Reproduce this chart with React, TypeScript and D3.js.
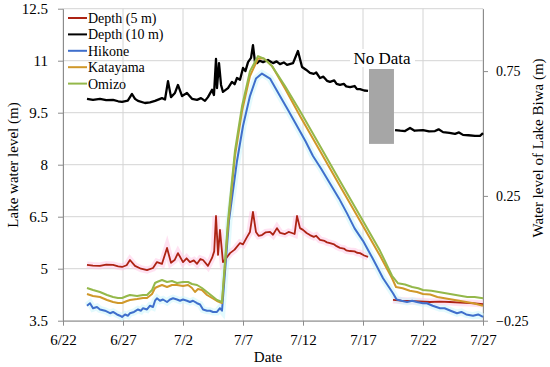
import React, { useEffect, useRef } from 'react';
import * as d3 from 'd3';

// days counted from 6/22, values in m
const dateLabels = ['6/22', '6/27', '7/2', '7/7', '7/12', '7/17', '7/22', '7/27'];
const leftTicks = [3.5, 5, 6.5, 8, 9.5, 11, 12.5];
const rightTicks = [-0.25, 0.25, 0.75];
const rightTickLabels = ['\u22120.25', '0.25', '0.75'];

// left axis (lake water level)
const depth5: [number, number | null][] = [
  [2.0, 5.11], [2.5, 5.09], [3.08, 5.08], [3.6, 5.12], [4.17, 5.11], [4.6, 5.07], [4.92, 5.05], [5.3, 5.1],
  [5.58, 5.25], [6.0, 5.08], [6.5, 5.0], [7.0, 4.96], [7.5, 5.02], [7.83, 5.19], [8.25, 5.14], [8.67, 5.6],
  [9.0, 5.17], [9.3, 5.25], [9.58, 5.45], [10.0, 5.19], [10.3, 5.3], [10.58, 5.19], [10.9, 5.24], [11.17, 5.14],
  [11.45, 5.28], [11.67, 5.25], [12.08, 5.08], [12.42, 5.31], [12.6, 5.5], [12.75, 6.52], [12.92, 5.4],
  [13.08, 6.12], [13.33, 5.19], [13.6, 5.3], [13.92, 5.45], [14.3, 5.55], [14.75, 5.74], [15.0, 5.7],
  [15.33, 5.91], [15.58, 6.06], [15.83, 6.64], [16.08, 6.06], [16.3, 5.95], [16.58, 5.97], [16.9, 6.05],
  [17.25, 6.06], [17.5, 5.98], [17.83, 6.17], [18.1, 6.03], [18.5, 6.0], [18.8, 6.06], [19.08, 6.03],
  [19.3, 6.0], [19.5, 6.52], [19.75, 6.17], [20.0, 6.12], [20.3, 6.03], [20.58, 5.97], [20.9, 5.92],
  [21.1, 5.95], [21.42, 5.83], [21.8, 5.8], [22.0, 5.76], [22.25, 5.74], [22.6, 5.7], [22.8, 5.65],
  [23.08, 5.6], [23.4, 5.58], [23.6, 5.53], [23.92, 5.51], [24.3, 5.5], [24.5, 5.46], [24.75, 5.45],
  [25.1, 5.38], [25.42, 5.34], [26.5, null],
  [27.5, 4.1], [28.2, 4.08], [28.92, 4.07], [29.7, 4.06], [30.58, 4.04], [31.4, 4.05], [32.25, 4.04],
  [33.1, 4.02], [33.92, 4.01], [35.0, 3.98],
];

const depth10: [number, number | null][] = [
  [2.0, 9.9], [2.5, 9.87], [3.08, 9.9], [3.6, 9.86], [4.17, 9.87], [4.6, 9.83], [4.92, 9.81], [5.4, 9.85],
  [5.75, 10.04], [6.0, 9.9], [6.25, 9.84], [6.83, 9.78], [7.25, 9.8], [7.67, 9.84], [8.25, 9.92], [8.5, 9.88],
  [8.75, 10.41], [9.0, 9.95], [9.33, 10.07], [9.58, 10.3], [9.92, 9.98], [10.33, 10.07], [10.75, 9.9],
  [11.17, 9.87], [11.5, 9.92], [11.83, 9.84], [12.08, 9.95], [12.42, 10.16], [12.58, 10.01], [12.75, 11.05],
  [12.83, 10.21], [13.0, 10.93], [13.17, 10.3], [13.33, 10.1], [13.75, 10.21], [14.08, 10.39], [14.3, 10.32],
  [14.5, 10.5], [14.75, 10.45], [15.0, 10.79], [15.2, 10.7], [15.42, 10.96], [15.67, 11.08], [15.83, 11.45],
  [16.0, 10.96], [16.17, 10.93], [16.4, 11.0], [16.67, 10.96], [17.08, 11.02], [17.5, 10.93], [17.8, 10.98],
  [18.08, 10.9], [18.4, 10.95], [18.67, 10.88], [19.17, 10.93], [19.58, 11.28], [19.92, 10.82], [20.25, 10.74],
  [20.58, 10.65], [20.9, 10.62], [21.1, 10.66], [21.42, 10.5], [21.7, 10.54], [22.0, 10.42], [22.25, 10.39],
  [22.6, 10.43], [22.8, 10.33], [23.08, 10.3], [23.4, 10.33], [23.6, 10.26], [23.92, 10.24], [24.3, 10.27],
  [24.5, 10.18], [24.75, 10.18], [25.1, 10.14], [25.42, 10.13], [26.5, null],
  [27.67, 9.0], [28.1, 8.98], [28.5, 8.97], [28.92, 9.06], [29.3, 8.98], [30.0, 9.0], [30.5, 8.96],
  [31.0, 8.97], [31.3, 9.02], [31.67, 8.94], [32.2, 8.92], [32.67, 8.89], [33.0, 8.93], [33.33, 8.86],
  [33.8, 8.85], [34.33, 8.83], [34.75, 8.83], [35.0, 8.91],
];

// right axis (water level of Lake Biwa)
const hikone: [number, number][] = [
  [2.0, -0.19], [2.25, -0.18], [2.5, -0.2], [2.83, -0.195], [3.08, -0.205], [3.5, -0.21], [3.92, -0.22],
  [4.17, -0.215], [4.5, -0.225], [4.75, -0.23], [4.92, -0.235], [5.17, -0.225], [5.42, -0.23], [5.58, -0.22],
  [5.92, -0.215], [6.25, -0.205], [6.5, -0.21], [6.67, -0.2], [7.0, -0.205], [7.25, -0.19], [7.5, -0.195],
  [7.67, -0.17], [7.83, -0.16], [8.08, -0.17], [8.33, -0.165], [8.67, -0.175], [8.92, -0.165], [9.17, -0.16],
  [9.5, -0.165], [9.75, -0.17], [10.0, -0.165], [10.33, -0.17], [10.58, -0.175], [10.83, -0.17],
  [11.17, -0.18], [11.42, -0.185], [11.67, -0.205], [12.0, -0.21], [12.25, -0.21], [12.5, -0.215],
  [12.83, -0.215], [13.08, -0.2], [13.25, -0.21], [13.83, 0.15], [14.5, 0.39], [15.0, 0.53], [15.58, 0.65],
  [16.08, 0.72], [16.58, 0.74], [17.25, 0.72], [18.08, 0.65], [18.8, 0.59], [19.5, 0.53], [20.2, 0.47],
  [20.83, 0.41], [21.5, 0.36], [22.25, 0.3], [23.0, 0.24], [23.67, 0.18], [24.3, 0.12], [25.0, 0.07],
  [25.8, 0.0], [26.67, -0.08], [27.5, -0.14], [27.8, -0.165], [28.2, -0.17], [28.67, -0.175], [29.1, -0.17],
  [29.5, -0.175], [30.0, -0.18], [30.33, -0.18], [30.8, -0.19], [31.42, -0.2], [31.8, -0.2], [32.3, -0.21],
  [32.83, -0.22], [33.2, -0.215], [33.6, -0.225], [34.17, -0.23], [34.6, -0.225], [35.0, -0.235],
];

const katayama: [number, number][] = [
  [2.0, -0.143], [2.5, -0.151], [3.08, -0.155], [3.67, -0.167], [4.17, -0.175], [4.58, -0.179],
  [4.92, -0.179], [5.33, -0.171], [5.58, -0.167], [6.17, -0.163], [6.67, -0.159], [7.0, -0.159],
  [7.42, -0.143], [7.67, -0.119], [7.83, -0.115], [8.25, -0.107], [8.67, -0.115], [9.08, -0.107],
  [9.5, -0.107], [10.0, -0.111], [10.42, -0.107], [10.75, -0.119], [11.0, -0.135], [11.25, -0.123],
  [11.58, -0.127], [12.0, -0.147], [12.42, -0.159], [12.83, -0.171], [13.25, -0.179], [13.75, 0.13],
  [14.33, 0.41], [14.92, 0.59], [15.58, 0.73], [16.25, 0.8], [16.75, 0.8], [17.42, 0.77], [18.5, 0.68],
  [19.75, 0.57], [21.42, 0.43], [23.08, 0.29], [24.75, 0.15], [26.42, 0.01], [27.42, -0.08], [27.75, -0.115],
  [28.3, -0.12], [28.9, -0.13], [29.5, -0.135], [30.0, -0.143], [30.6, -0.145], [31.2, -0.155], [31.8, -0.16],
  [32.4, -0.165], [33.0, -0.17], [33.6, -0.175], [34.2, -0.18], [34.6, -0.185], [35.0, -0.19],
];

const omizo: [number, number][] = [
  [2.0, -0.119], [2.5, -0.127], [3.08, -0.135], [3.67, -0.147], [4.17, -0.155], [4.58, -0.159],
  [4.92, -0.159], [5.33, -0.151], [5.58, -0.147], [6.17, -0.151], [6.67, -0.147], [7.0, -0.147],
  [7.42, -0.127], [7.67, -0.099], [7.83, -0.095], [8.25, -0.087], [8.67, -0.095], [9.08, -0.091],
  [9.5, -0.099], [10.0, -0.095], [10.42, -0.095], [10.75, -0.103], [11.17, -0.107], [11.58, -0.119],
  [12.0, -0.135], [12.42, -0.151], [12.83, -0.167], [13.25, -0.175], [13.75, 0.15], [14.33, 0.43],
  [14.92, 0.61], [15.58, 0.75], [16.25, 0.81], [16.75, 0.8], [17.42, 0.77], [18.5, 0.69], [19.75, 0.59],
  [21.42, 0.45], [23.08, 0.31], [24.75, 0.17], [26.42, 0.03], [27.42, -0.07], [27.92, -0.1], [28.5, -0.105],
  [29.1, -0.115], [29.6, -0.12], [30.0, -0.127], [30.7, -0.13], [31.3, -0.135], [31.9, -0.14], [32.5, -0.145],
  [33.1, -0.15], [33.7, -0.155], [34.3, -0.155], [35.0, -0.16],
];

// no-data box: days and left-axis values
const noData = { x0: 25.5, x1: 27.58, y0: 8.6, y1: 10.76 };

const legendItems = [
  { name: 'Depth (5 m)', color: '#ad2314' },
  { name: 'Depth (10 m)', color: '#000000' },
  { name: 'Hikone', color: '#3f6fcc' },
  { name: 'Katayama', color: '#d0982a' },
  { name: 'Omizo', color: '#94b84a' },
];

const App = () => {
  const svgRef = useRef<SVGSVGElement>(null);

  useEffect(() => {
    const svg = d3.select(svgRef.current);
    svg.selectAll('*').remove();

    const width = 550;
    const height = 367;
    const font = "'Liberation Serif', 'Times New Roman', serif";
    const left = 63, right = 483, top = 8.7, bottom = 320.7;

    const x = d3.scaleLinear().domain([0, 35]).range([left, right]);
    const yL = d3.scaleLinear().domain([3.5, 12.5]).range([bottom, top]);
    const yR = d3.scaleLinear().domain([-0.25, 1.0]).range([bottom, top]);

    svg.attr('width', width).attr('height', height);
    svg.append('rect').attr('width', width).attr('height', height).attr('fill', '#fff');

    // grid
    const grid = svg.append('g').attr('stroke', '#d4d4d4').attr('stroke-width', 1);
    leftTicks.forEach(t => {
      grid.append('line').attr('x1', left).attr('x2', right).attr('y1', yL(t)).attr('y2', yL(t));
    });
    dateLabels.forEach((_, i) => {
      grid.append('line').attr('x1', x(i * 5)).attr('x2', x(i * 5)).attr('y1', top).attr('y2', bottom);
    });

    // axes
    const axisColor = '#8c8c8c';
    const gL = svg.append('g').attr('transform', `translate(${left},0)`)
      .call(d3.axisLeft(yL).tickValues(leftTicks).tickSize(5).tickSizeOuter(0).tickPadding(10)
        .tickFormat(d => String(d)));
    const gB = svg.append('g').attr('transform', `translate(0,${bottom})`)
      .call(d3.axisBottom(x).tickValues(dateLabels.map((_, i) => i * 5)).tickSize(5).tickSizeOuter(0)
        .tickPadding(9).tickFormat((_, i) => dateLabels[i]));
    const gR = svg.append('g').attr('transform', `translate(${right},0)`)
      .call(d3.axisRight(yR).tickValues(rightTicks).tickSize(5).tickSizeOuter(0).tickPadding(8)
        .tickFormat((_, i) => rightTickLabels[i]));
    [gL, gB, gR].forEach(g => {
      g.select('.domain').attr('stroke', axisColor);
      g.selectAll('.tick line').attr('stroke', axisColor);
      g.selectAll('.tick text').attr('fill', '#000').style('font-family', font).style('font-size', '15px');
    });
    gR.selectAll('.tick text').style('font-size', '14px');

    // no data box
    svg.append('rect')
      .attr('x', x(noData.x0)).attr('y', yL(noData.y1))
      .attr('width', x(noData.x1) - x(noData.x0)).attr('height', yL(noData.y0) - yL(noData.y1))
      .attr('fill', '#a6a6a6');
    svg.append('rect').attr('x', 350).attr('y', 49).attr('width', 65).attr('height', 18).attr('fill', '#fff');
    svg.append('text').attr('x', 382).attr('y', 64).attr('text-anchor', 'middle')
      .style('font-family', font).style('font-size', '17px').text('No Data');

    const lineL = d3.line<[number, number | null]>()
      .defined(d => d[1] != null).x(d => x(d[0])).y(d => yL(d[1] as number));
    const lineR = d3.line<[number, number]>().x(d => x(d[0])).y(d => yR(d[1]));

    // faint halos
    svg.append('path').datum(depth5).attr('d', lineL).attr('fill', 'none')
      .attr('stroke', '#ffc6e6').attr('stroke-width', 7).attr('opacity', 0.5);
    svg.append('path').datum(hikone).attr('d', lineR).attr('fill', 'none')
      .attr('stroke', '#c8f6fb').attr('stroke-width', 7).attr('opacity', 0.5);

    svg.append('path').datum(depth10).attr('d', lineL).attr('fill', 'none')
      .attr('stroke', legendItems[1].color).attr('stroke-width', 2.3).attr('stroke-linejoin', 'round');
    svg.append('path').datum(depth5).attr('d', lineL).attr('fill', 'none')
      .attr('stroke', legendItems[0].color).attr('stroke-width', 1.8).attr('stroke-linejoin', 'round');
    [hikone, katayama, omizo].forEach((s, i) => {
      svg.append('path').datum(s).attr('d', lineR).attr('fill', 'none')
        .attr('stroke', legendItems[i + 2].color).attr('stroke-width', 2).attr('stroke-linejoin', 'round');
    });

    // legend
    const lg = svg.append('g');
    legendItems.forEach((item, i) => {
      const cy = 18 + i * 16.4;
      lg.append('line').attr('x1', 68).attr('x2', 87).attr('y1', cy).attr('y2', cy)
        .attr('stroke', item.color).attr('stroke-width', 2);
      lg.append('text').attr('x', 88).attr('y', cy + 5)
        .style('font-family', font).style('font-size', '14px').text(item.name);
    });

    // axis titles
    svg.append('text').attr('transform', `translate(18,165) rotate(-90)`).attr('text-anchor', 'middle')
      .style('font-family', font).style('font-size', '15px').text('Lake water level (m)');
    svg.append('text').attr('transform', `translate(543,148) rotate(-90)`).attr('text-anchor', 'middle')
      .style('font-family', font).style('font-size', '15px').text('Water level of Lake Biwa (m)');
    svg.append('text').attr('x', 268).attr('y', 362).attr('text-anchor', 'middle')
      .style('font-family', font).style('font-size', '15px').text('Date');
  }, []);

  return (
    <div style={{ position: 'absolute', left: 0, top: 0 }}>
      <svg ref={svgRef} style={{ display: 'block' }} />
    </div>
  );
};

export default App;
